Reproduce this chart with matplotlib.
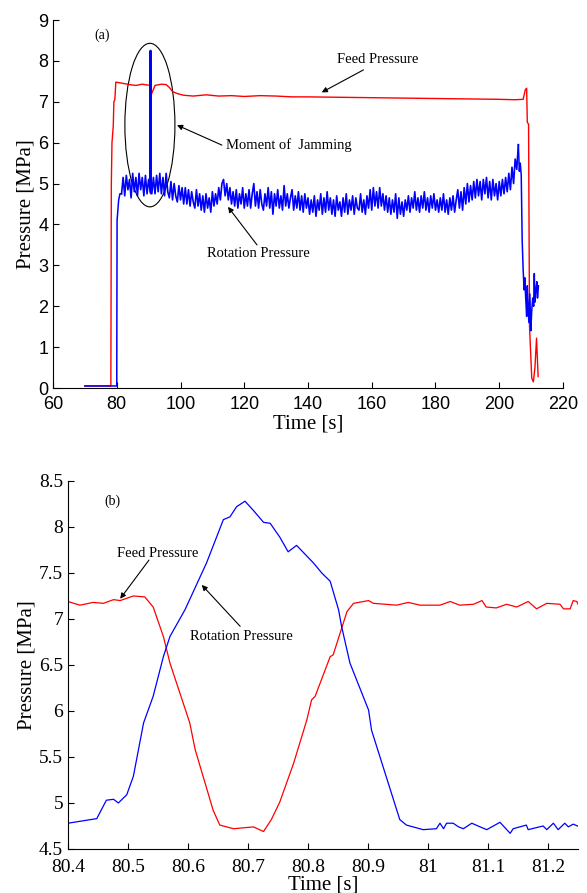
import numpy as np
import matplotlib
matplotlib.use("Agg")
import matplotlib.pyplot as plt
from matplotlib.patches import Ellipse
from matplotlib.ticker import FuncFormatter

#================================ data ================================#
# (a) whole run, feed pressure
feed_a_t = [70, 78.15, 78.3, 78.5, 78.9, 79.1, 79.4, 79.7, 80.5, 82, 84, 86, 88, 90.5, 90.6, 90.7,
            92, 94, 95.5, 96.5, 97.5, 99, 101, 104, 108, 112, 116, 120, 125, 130, 135, 140, 150,
            160, 170, 180, 190, 200, 205, 207.5, 208.2, 208.6, 208.8, 209.2, 209.5, 210.2, 210.7,
            211.2, 211.7, 212.2]
feed_a_p = [0.05, 0.05, 5.0, 6.0, 6.4, 7.0, 7.05, 7.48, 7.47, 7.45, 7.42, 7.4, 7.43, 7.4, 4.75, 7.15,
            7.4, 7.43, 7.42, 7.35, 7.25, 7.2, 7.16, 7.14, 7.17, 7.14, 7.15, 7.13, 7.15, 7.14, 7.12, 7.12, 7.11,
            7.1, 7.09, 7.08, 7.07, 7.06, 7.05, 7.06, 7.3, 7.33, 6.5, 6.45, 1.5, 0.24, 0.15,
            0.5, 1.22, 0.28]

# (a) rotation pressure: start-up, 0.5 s samples from 81.5 s to 206 s, spike and shutdown
rot_a_lead_t = [70, 80.0, 80.1, 80.3, 80.6, 81.0, 81.5]
rot_a_lead_p = [0.05, 0.05, 4.1, 4.3, 4.6, 4.75, 4.75]
rot_a_body_p = [
    4.75, 5.15, 4.7, 5.2, 4.85, 5.1, 4.65, 5.25, 4.8, 5.15,
    4.7, 5.25, 4.85, 5.15, 4.7, 5.2, 4.75, 5.1, 4.8, 4.75,
    5.15, 4.75, 5.2, 4.8, 5.25, 4.75, 5.15, 4.7, 5.25, 4.8,
    4.65, 5.05, 4.6, 5.0, 4.7, 4.55, 4.95, 4.6, 4.9, 4.5,
    4.9, 4.5, 4.85, 4.45, 4.8, 4.55, 4.4, 4.85, 4.45, 4.75,
    4.35, 4.7, 4.3, 4.75, 4.4, 4.65, 4.3, 4.8, 4.45, 4.75,
    4.5, 4.9, 4.6, 5.0, 5.1, 4.7, 5.0, 4.6, 4.9, 4.5,
    4.8, 4.45, 4.85, 4.4, 4.75, 4.5, 4.9, 4.4, 4.75, 4.45,
    4.85, 4.4, 4.75, 5.0, 4.45, 4.8, 4.4, 4.85, 4.5, 4.35,
    4.75, 4.45, 4.9, 4.4, 4.8, 4.25, 4.75, 4.45, 4.85, 4.4,
    4.7, 4.35, 4.95, 4.45, 4.75, 4.4, 4.65, 4.85, 4.35, 4.7,
    4.4, 4.8, 4.35, 4.7, 4.3, 4.75, 4.4, 4.65, 4.25, 4.6,
    4.3, 4.7, 4.2, 4.6, 4.35, 4.75, 4.25, 4.65, 4.3, 4.8,
    4.35, 4.65, 4.25, 4.6, 4.2, 4.7, 4.35, 4.55, 4.2, 4.65,
    4.3, 4.75, 4.25, 4.6, 4.35, 4.7, 4.25, 4.65, 4.4, 4.35,
    4.75, 4.3, 4.6, 4.25, 4.7, 4.4, 4.85, 4.35, 4.9, 4.45,
    4.8, 4.4, 4.9, 4.45, 4.75, 4.35, 4.7, 4.3, 4.65, 4.25,
    4.6, 4.3, 4.75, 4.15, 4.65, 4.25, 4.55, 4.2, 4.6, 4.35,
    4.7, 4.3, 4.65, 4.4, 4.8, 4.35, 4.65, 4.3, 4.7, 4.4,
    4.8, 4.35, 4.65, 4.3, 4.7, 4.4, 4.75, 4.35, 4.6, 4.3,
    4.65, 4.35, 4.75, 4.3, 4.6, 4.25, 4.65, 4.35, 4.7, 4.3,
    4.6, 4.85, 4.4, 4.8, 4.35, 4.9, 4.5, 5.0, 4.55, 4.95,
    4.6, 5.05, 4.65, 5.1, 4.7, 5.05, 4.6, 5.1, 4.75, 5.15,
    4.65, 5.05, 4.6, 5.1, 4.7, 5.0, 4.6, 5.05, 4.7, 5.1,
    4.75, 5.15, 4.8, 5.25, 4.85, 5.4, 5.0, 5.6, 5.35, 5.95]
rot_a_body_t = 81.5 + 0.5 * np.arange(len(rot_a_body_p))
rot_a_spike_t = [90.5, 90.6, 90.7]
rot_a_spike_p = [4.9, 8.25, 4.8]
rot_a_tail_t = [206.0, 206.3, 206.6, 206.9, 207.2, 207.5, 207.8, 208.0, 208.3, 208.6, 208.8, 209.0,
                209.3, 209.6, 209.9, 210.2, 210.5, 210.8, 211.0, 211.2, 211.5, 211.8, 212.0, 212.3]
rot_a_tail_p = [5.95, 5.3, 5.5, 5.2, 3.6, 2.9, 2.4, 2.7, 2.2, 1.75, 2.5, 2.1,
                1.6, 2.3, 1.4, 1.9, 2.2, 2.0, 2.8, 2.1, 2.4, 2.6, 2.2, 2.5]

# (b) zoom on the jamming moment
feed_b_t = [80.400, 80.420, 80.442, 80.459, 80.476, 80.487, 80.509, 80.528, 80.542, 80.559, 80.570,
            80.603, 80.612, 80.642, 80.653, 80.676, 80.709, 80.726, 80.739, 80.753, 80.776, 80.798,
            80.806, 80.812, 80.837, 80.842, 80.865, 80.876, 80.901, 80.909, 80.948, 80.967, 80.987,
            81.020, 81.037, 81.053, 81.076, 81.090, 81.097, 81.114, 81.131, 81.148, 81.167, 81.181,
            81.198, 81.220, 81.226, 81.237, 81.242, 81.248, 81.253]
feed_b_p = [7.19, 7.15, 7.18, 7.17, 7.21, 7.20, 7.25, 7.24, 7.13, 6.81, 6.52,
            5.87, 5.58, 4.92, 4.76, 4.72, 4.74, 4.69, 4.82, 5.01, 5.43, 5.90,
            6.12, 6.16, 6.59, 6.61, 7.08, 7.17, 7.20, 7.17, 7.15, 7.18, 7.15,
            7.15, 7.19, 7.15, 7.16, 7.20, 7.13, 7.12, 7.16, 7.13, 7.19, 7.11,
            7.17, 7.16, 7.11, 7.11, 7.20, 7.19, 7.12]

rot_b_t = [80.400, 80.448, 80.464, 80.476, 80.484, 80.498, 80.509, 80.526, 80.542, 80.559, 80.570,
           80.595, 80.631, 80.659, 80.670, 80.681, 80.695, 80.709, 80.726, 80.737, 80.753, 80.767,
           80.781, 80.809, 80.823, 80.837, 80.851, 80.856, 80.870, 80.901, 80.906, 80.953, 80.964,
           80.992, 81.014, 81.020, 81.026, 81.031, 81.042, 81.051, 81.059, 81.073, 81.087, 81.098,
           81.120, 81.137, 81.142, 81.164, 81.167, 81.192, 81.198, 81.209, 81.217, 81.228, 81.234,
           81.242, 81.253]
rot_b_p = [4.78, 4.83, 5.03, 5.04, 5.00, 5.09, 5.29, 5.87, 6.16, 6.59, 6.81,
           7.10, 7.61, 8.08, 8.11, 8.22, 8.28, 8.18, 8.05, 8.04, 7.89, 7.73,
           7.80, 7.61, 7.50, 7.41, 7.10, 6.92, 6.52, 6.01, 5.79, 4.82, 4.76,
           4.71, 4.72, 4.78, 4.72, 4.78, 4.78, 4.74, 4.72, 4.78, 4.74, 4.71,
           4.79, 4.67, 4.72, 4.76, 4.71, 4.75, 4.71, 4.78, 4.71, 4.78, 4.74,
           4.77, 4.74]

serif = "Liberation Serif"
sans = "Liberation Sans"

fig = plt.figure(figsize=(5.87, 8.93), dpi=100)

def style_axes(ax):
    ax.spines["top"].set_visible(False)
    ax.spines["right"].set_visible(False)
    ax.tick_params(direction="in", length=4, width=0.8)

#========================================= (a) =========================================#
ax0 = fig.add_axes([0.0903, 0.5655, 0.8688, 0.4121])
style_axes(ax0)
ax0.tick_params(axis="x", pad=6)
ax0.plot(feed_a_t, feed_a_p, color="red", lw=1.0)
ax0.plot(rot_a_lead_t, rot_a_lead_p, color="blue", lw=1.1)
ax0.plot(rot_a_body_t, rot_a_body_p, color="blue", lw=1.2)
ax0.plot(rot_a_spike_t, rot_a_spike_p, color="blue", lw=1.5)
ax0.plot(rot_a_tail_t, rot_a_tail_p, color="blue", lw=1.1)
ax0.set_xlim(60, 220)
ax0.set_ylim(0, 9)
ax0.set_xticks(np.arange(60, 221, 20))
ax0.set_yticks(np.arange(0, 10, 1))
for lab in ax0.get_xticklabels() + ax0.get_yticklabels():
    lab.set_fontfamily(sans)
    lab.set_fontsize(13)
ax0.set_xlabel("Time [s]", fontfamily=serif, fontsize=15, labelpad=1)
ax0.set_ylabel("Pressure [MPa]", fontfamily=serif, fontsize=15, labelpad=2)

ax0.add_patch(Ellipse((90.4, 6.43), 15.7, 4.0, fill=False, ec="black", lw=0.8))
ax0.text(73.0, 8.63, "(a)", fontfamily=serif, fontsize=10, va="center")
arr = dict(arrowstyle="-|>", color="black", lw=0.8, mutation_scale=8, shrinkA=0, shrinkB=0)
ax0.annotate("", xy=(98.9, 6.43), xytext=(113.0, 5.94), arrowprops=arr)
ax0.text(114.3, 5.94, "Moment of  Jamming", fontfamily=serif, fontsize=10.5, va="center")
ax0.annotate("", xy=(114.9, 4.43), xytext=(124.0, 3.5), arrowprops=arr)
ax0.text(108.3, 3.3, "Rotation Pressure", fontfamily=serif, fontsize=10.5, va="center")
ax0.annotate("", xy=(144.3, 7.23), xytext=(157.4, 7.78), arrowprops=arr)
ax0.text(149.0, 8.03, "Feed Pressure", fontfamily=serif, fontsize=10.5, va="center")

#========================================= (b) =========================================#
ax1 = fig.add_axes([0.1158, 0.0493, 0.8688, 0.4121])
style_axes(ax1)
ax1.tick_params(axis="x", pad=7)
ax1.plot(feed_b_t, feed_b_p, color="red", lw=0.9)
ax1.plot(rot_b_t, rot_b_p, color="blue", lw=0.9)
ax1.set_xlim(80.4, 81.25)
ax1.set_ylim(4.5, 8.5)
ax1.set_xticks([80.4, 80.5, 80.6, 80.7, 80.8, 80.9, 81.0, 81.1, 81.2])
ax1.set_yticks([4.5, 5, 5.5, 6, 6.5, 7, 7.5, 8, 8.5])
ax1.xaxis.set_major_formatter(FuncFormatter(lambda v, p: "%g" % round(v, 2)))
ax1.yaxis.set_major_formatter(FuncFormatter(lambda v, p: "%g" % round(v, 2)))
for lab in ax1.get_xticklabels() + ax1.get_yticklabels():
    lab.set_fontfamily(serif)
    lab.set_fontsize(14)
ax1.set_xlabel("Time [s]", fontfamily=serif, fontsize=15, labelpad=0)
ax1.set_ylabel("Pressure [MPa]", fontfamily=serif, fontsize=15, labelpad=2)

ax1.text(80.460, 8.28, "(b)", fontfamily=serif, fontsize=10, va="center")
ax1.annotate("", xy=(80.487, 7.22), xytext=(80.535, 7.64), arrowprops=arr)
ax1.text(80.481, 7.71, "Feed Pressure", fontfamily=serif, fontsize=10.5, va="center")
ax1.annotate("", xy=(80.623, 7.37), xytext=(80.687, 6.92), arrowprops=arr)
ax1.text(80.603, 6.81, "Rotation Pressure", fontfamily=serif, fontsize=10.5, va="center")

plt.savefig("out.png", dpi=100)
